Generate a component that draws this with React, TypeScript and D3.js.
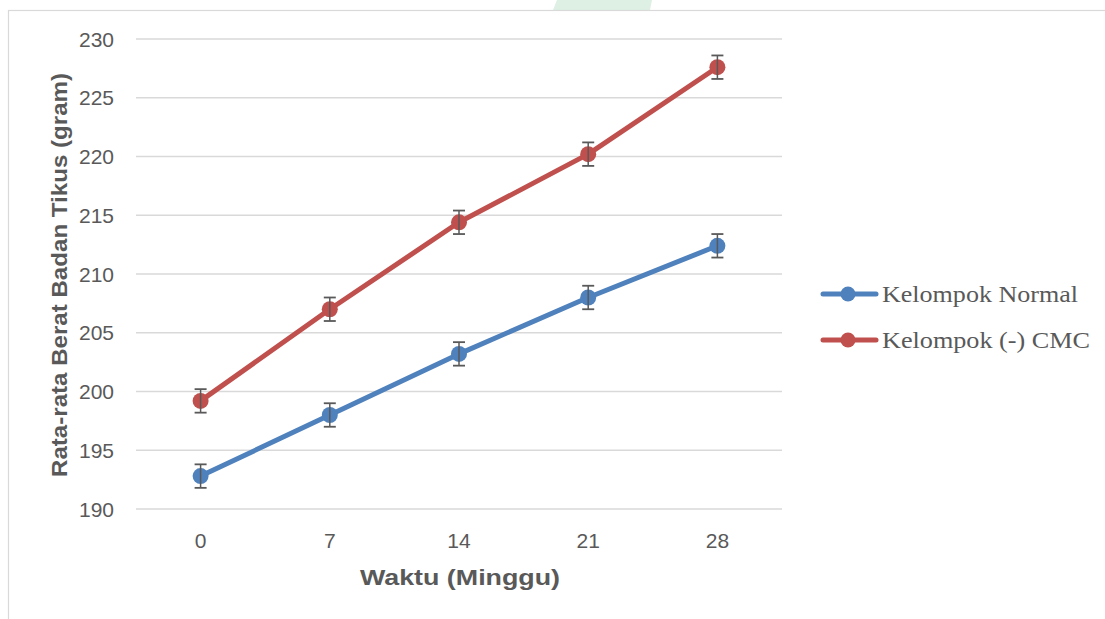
import React from "react";
import * as d3 from "d3";

const categories: string[] = ["0", "7", "14", "21", "28"];
const normalValues: number[] = [192.8, 198.0, 203.2, 208.0, 212.4];
const cmcValues: number[] = [199.2, 207.0, 214.4, 220.2, 227.6];
const normalErrors: number[] = [1.0, 1.0, 1.0, 1.0, 1.0];
const cmcErrors: number[] = [1.0, 1.0, 1.0, 1.0, 1.0];
const yTicks: number[] = [190, 195, 200, 205, 210, 215, 220, 225, 230];
const seriesNames: string[] = ["Kelompok Normal", "Kelompok (-) CMC"];
const yTitle = "Rata-rata Berat Badan Tikus (gram)";
const xTitle = "Waktu (Minggu)";

const W = 1105;
const H = 619;
const plotLeft = 136;
const plotRight = 782;
const plotTop = 39;
const plotBottom = 509;

const colors = ["#4F81BD", "#C0504D"];
const textGray = "#595959";
const gridGray = "#D9D9D9";

export default function App() {
  const x = d3.scaleBand<string>().domain(categories).range([plotLeft, plotRight]).padding(0);
  const y = d3.scaleLinear().domain([190, 230]).range([plotBottom, plotTop]);
  const cx = (c: string) => (x(c) as number) + x.bandwidth() / 2;

  const series = [
    { name: seriesNames[0], values: normalValues, errors: normalErrors, color: colors[0] },
    { name: seriesNames[1], values: cmcValues, errors: cmcErrors, color: colors[1] },
  ];

  const line = d3
    .line<number>()
    .x((_, i) => cx(categories[i]))
    .y((v) => y(v));

  const legendY = [294, 340];

  return (
    <svg
      width={W}
      height={H}
      style={{ position: "fixed", left: 0, top: 0, background: "#fff" }}
      fontFamily="'Liberation Sans', Arial, sans-serif"
    >
      <rect x={0} y={0} width={W} height={H} fill="#fff" />
      {/* faint watermark remnant */}
      <polygon points="553,10 557,0 652,0 650,10" fill="#DDF0E3" />
      {/* chart border */}
      <rect x={8.5} y={10.5} width={W + 20} height={H + 20} fill="#fff" stroke={gridGray} strokeWidth={1.2} />

      {/* gridlines */}
      {yTicks.map((t) => (
        <line key={"g" + t} x1={plotLeft} x2={plotRight} y1={y(t)} y2={y(t)} stroke={gridGray} strokeWidth={1.5} />
      ))}
      {/* y tick labels */}
      {yTicks.map((t) => (
        <text key={"yt" + t} x={114} y={y(t)} dy="0.36em" textAnchor="end" fontSize={21} fill={textGray}>
          {t}
        </text>
      ))}
      {/* x tick labels */}
      {categories.map((c) => (
        <text key={"xt" + c} x={cx(c)} y={548} textAnchor="middle" fontSize={21} fill={textGray}>
          {c}
        </text>
      ))}

      {/* axis titles */}
      <text
        x={460}
        y={585}
        textAnchor="middle"
        fontSize={22}
        fontWeight="bold"
        fill={textGray}
        textLength={200}
        lengthAdjust="spacingAndGlyphs"
      >
        {xTitle}
      </text>
      <text
        transform={`translate(67,${(plotTop + plotBottom) / 2 + 1}) rotate(-90)`}
        textAnchor="middle"
        fontSize={22}
        fontWeight="bold"
        fill={textGray}
        textLength={404}
        lengthAdjust="spacingAndGlyphs"
      >
        {yTitle}
      </text>

      {/* series */}
      {series.map((s) => (
        <g key={s.name}>
          <path d={line(s.values) || ""} fill="none" stroke={s.color} strokeWidth={5} strokeLinejoin="round" strokeLinecap="round" />
          {s.values.map((v, i) => {
            const px = cx(categories[i]);
            const top = y(v + s.errors[i]);
            const bot = y(v - s.errors[i]);
            return (
              <g key={i}>
                <circle cx={px} cy={y(v)} r={8} fill={s.color} />
                <line x1={px} x2={px} y1={top} y2={bot} stroke={textGray} strokeWidth={1.5} />
                <line x1={px - 6} x2={px + 6} y1={top} y2={top} stroke={textGray} strokeWidth={1.8} />
                <line x1={px - 6} x2={px + 6} y1={bot} y2={bot} stroke={textGray} strokeWidth={1.8} />
              </g>
            );
          })}
        </g>
      ))}

      {/* legend */}
      {series.map((s, i) => (
        <g key={"lg" + i}>
          <line x1={823} x2={876} y1={legendY[i]} y2={legendY[i]} stroke={s.color} strokeWidth={5} strokeLinecap="round" />
          <circle cx={848} cy={legendY[i]} r={7.5} fill={s.color} />
          <text
            x={882}
            y={legendY[i]}
            dy="0.33em"
            fontFamily="'Liberation Serif', 'Times New Roman', serif"
            fontSize={24}
            fill={textGray}
            textLength={i === 0 ? 196 : 208}
            lengthAdjust="spacingAndGlyphs"
          >
            {s.name}
          </text>
        </g>
      ))}
    </svg>
  );
}
